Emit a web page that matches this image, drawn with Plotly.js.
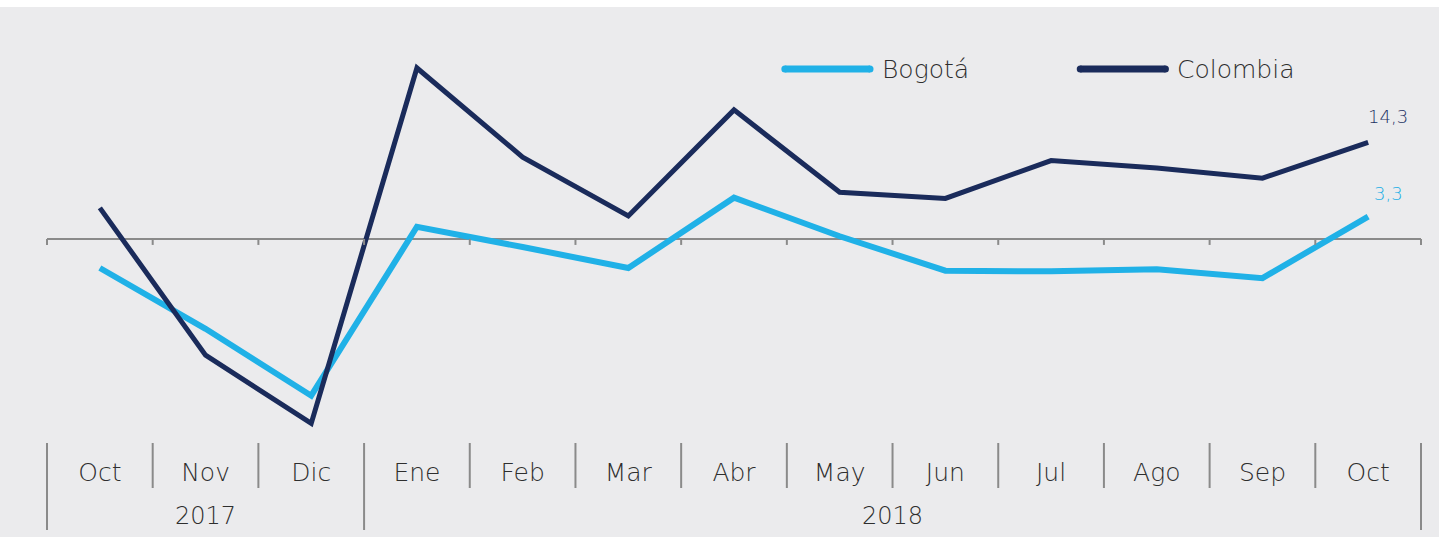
<!DOCTYPE html>
<html><head><meta charset="utf-8">
<script src="https://cdn.plot.ly/plotly-3.0.1.min.js"></script>
<style>html,body{margin:0;padding:0;background:#fff;} #wrap{padding-top:7px;} #chart{width:1439px;height:530px;}</style>
</head><body><div id="wrap"><div id="chart"></div></div>
<script>
const months = ['Oct','Nov','Dic','Ene','Feb','Mar','Abr','May','Jun','Jul','Ago','Sep','Oct'];
const years = ['2017','2017','2017','2018','2018','2018','2018','2018','2018','2018','2018','2018','2018'];
const bogota = [-4.3,-13.3,-23.2,1.8,-1.2,-4.3,6.1,0.4,-4.7,-4.8,-4.5,-5.8,3.3];
const colombia = [4.6,-17.2,-27.3,25.3,12.1,3.4,19.1,6.9,6.0,11.6,10.5,9.0,14.3];
const names = ['Bogotá','Colombia'];
const colors = ['#20b1e7','#1a2b5b'];
const labelColors = ['#1aaee6','#1c3263'];

const n = months.length;
const idx = months.map((m, i) => i);
const BG = '#ebebed';
const AX = '#8a8a8a';
const FONT = '"DejaVu Sans", sans-serif';
const W = 200;
const TXT = '#2e2e2e';
const plotH = 423;

const traces = [
  {x:idx, y:bogota, name:names[0], type:'scatter', mode:'lines', line:{color:colors[0], width:6}, showlegend:false},
  {x:idx, y:colombia, name:names[1], type:'scatter', mode:'lines', line:{color:colors[1], width:5}, showlegend:false}
];

const shapes = [];
for (let i = 0; i <= n; i++) {
  const isYearDiv = (i === 0 || i === n || years[i] !== years[i-1]);
  shapes.push({type:'line', xref:'paper', yref:'paper', x0:i/n, x1:i/n, y0:0, y1: -(isYearDiv ? 87 : 45)/plotH, line:{color:AX, width:2}});
  shapes.push({type:'line', xref:'paper', yref:'y', ysizemode:'pixel', yanchor:0, x0:i/n, x1:i/n, y0:0, y1:-6, line:{color:AX, width:2}});
}
const annotations = [];
// year group labels
let start = 0;
for (let i = 1; i <= n; i++) {
  if (i === n || years[i] !== years[start]) {
    annotations.push({xref:'x', yref:'paper', x:(start + i - 1)/2, y:-73/plotH, yanchor:'middle', text:years[start], showarrow:false,
      font:{family:FONT, size:24, weight:W, color:TXT}});
    start = i;
  }
}
// legend samples (manual legend with rounded ends)
const legX = [[0.537,0.599],[0.752,0.814]];
const legY = 0.884;
for (let k = 0; k < 2; k++) {
  shapes.push({type:'line', xref:'paper', yref:'paper', x0:legX[k][0], x1:legX[k][1], y0:legY, y1:legY, line:{color:colors[k], width:7}});
  for (const ex of legX[k]) {
    shapes.push({type:'circle', xref:'paper', yref:'paper', xsizemode:'pixel', ysizemode:'pixel', xanchor:ex, yanchor:legY,
      x0:-3.5, x1:3.5, y0:-3.5, y1:3.5, fillcolor:colors[k], line:{width:0}});
  }
  annotations.push({xref:'paper', yref:'paper', x:legX[k][1]+0.007, y:legY, xanchor:'left', yanchor:'middle', text:names[k], showarrow:false,
    font:{family:FONT, size:25, weight:W, color:TXT}});
}
const series = [bogota, colombia];
const ys = [23, 26];
for (let k = 0; k < 2; k++) {
  const v = series[k][n-1];
  annotations.push({x:n-1, y:v, xref:'x', yref:'y', text:String(v).replace('.', ','), showarrow:false, xshift:20, yshift:ys[k],
    font:{family:FONT, size:18, weight:W, color:labelColors[k]}});
}

const layout = {
  width:1439, height:530,
  margin:{l:47, r:18, t:13, b:94},
  paper_bgcolor:BG, plot_bgcolor:BG,
  font:{family:FONT, color:TXT},
  showlegend:false,
  xaxis:{type:'linear', range:[-0.5, n-0.5], tickvals:idx, ticktext:months, showgrid:false, zeroline:false, showline:false,
         ticks:'outside', ticklen:7, tickcolor:'rgba(0,0,0,0)', tickfont:{family:FONT, size:25, weight:W, color:TXT}},
  yaxis:{range:[-30.2, 32.4], showgrid:false, showticklabels:false, ticks:'', zeroline:true, zerolinecolor:AX, zerolinewidth:2, showline:false},
  shapes:shapes, annotations:annotations
};
Plotly.newPlot('chart', traces, layout, {displayModeBar:false, staticPlot:true});
</script></body></html>
